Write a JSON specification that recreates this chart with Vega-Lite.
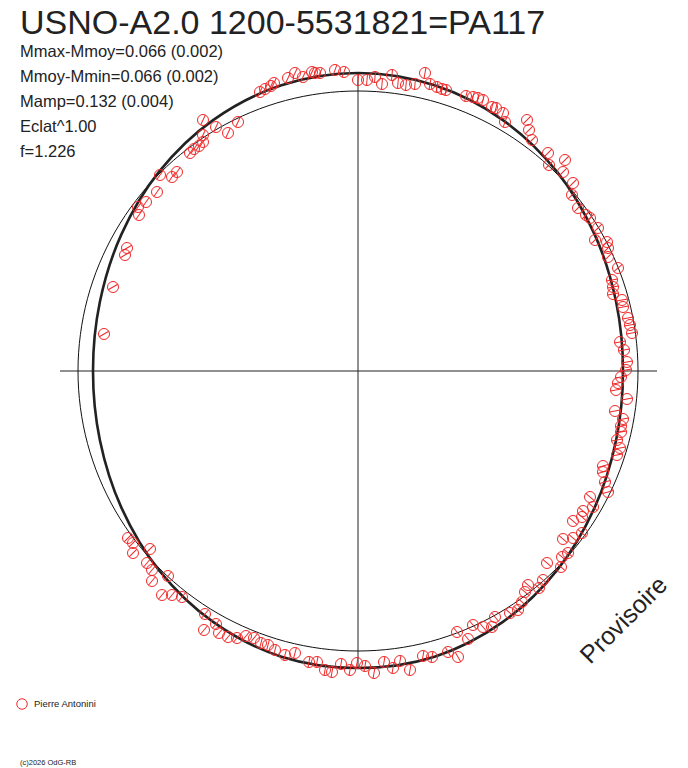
{
  "$schema": "https://vega.github.io/schema/vega-lite/v6.json",
  "width": 688,
  "height": 768,
  "autosize": {"type": "none"},
  "padding": 0,
  "data": {"values": [{}]},
  "title": {
    "text": "USNO-A2.0 1200-5531821=PA117",
    "subtitle": ["Mmax-Mmoy=0.066 (0.002)", "Mmoy-Mmin=0.066 (0.002)", "Mamp=0.132 (0.004)", "Eclat^1.00", "f=1.226"],
    "anchor": "start",
    "frame": "group",
    "orient": "top",
    "offset": -160,
    "dx": 20,
    "font": "Liberation Sans",
    "fontSize": 34,
    "fontWeight": "normal",
    "color": "#222222",
    "subtitleFont": "Liberation Sans",
    "subtitleFontSize": 16.5,
    "subtitleColor": "#222222",
    "subtitleLineHeight": 25,
    "subtitlePadding": 3
  },
  "datasets": {
    "obs": [
      {"x": -98, "y": 279, "t": 25}, {"x": -93, "y": 282, "t": 25}, {"x": -87, "y": 285, "t": 25}, {"x": -84, "y": 288, "t": 25},
      {"x": -70, "y": 293, "t": 25}, {"x": -63, "y": 298, "t": 25}, {"x": -55, "y": 294, "t": 25}, {"x": -46, "y": 299, "t": 25},
      {"x": -43, "y": 298, "t": 25}, {"x": -38, "y": 298, "t": 25}, {"x": -23, "y": 301, "t": 20}, {"x": -14, "y": 299, "t": 20},
      {"x": -155, "y": 251, "t": 25}, {"x": -155, "y": 236, "t": 25}, {"x": -142, "y": 244, "t": 25}, {"x": -130, "y": 238, "t": 25},
      {"x": -120, "y": 249, "t": 25},
      {"x": 0, "y": 291, "t": 5}, {"x": 9, "y": 291, "t": 5}, {"x": 17, "y": 294, "t": 5}, {"x": 24, "y": 287, "t": 5},
      {"x": 34, "y": 296, "t": 5}, {"x": 40, "y": 288, "t": 5}, {"x": 48, "y": 286, "t": 5}, {"x": 57, "y": 287, "t": 5},
      {"x": 67, "y": 298, "t": 10}, {"x": 72, "y": 287, "t": 10}, {"x": 79, "y": 284, "t": 10}, {"x": 84, "y": 282, "t": 10},
      {"x": 88, "y": 281, "t": 10}, {"x": 108, "y": 275, "t": 15}, {"x": 115, "y": 274, "t": 15}, {"x": 120, "y": 273, "t": 15},
      {"x": 125, "y": 271, "t": 15}, {"x": 134, "y": 264, "t": 15}, {"x": 138, "y": 263, "t": 15}, {"x": 145, "y": 258, "t": 20},
      {"x": 147, "y": 249, "t": 20},
      {"x": 169, "y": 251, "t": 45}, {"x": 171, "y": 241, "t": 45}, {"x": 174, "y": 231, "t": 45}, {"x": 190, "y": 218, "t": 45},
      {"x": 191, "y": 206, "t": 45}, {"x": 207, "y": 211, "t": 45}, {"x": 205, "y": 199, "t": 45}, {"x": 215, "y": 188, "t": 45},
      {"x": 214, "y": 176, "t": 45}, {"x": 220, "y": 163, "t": 45}, {"x": 228, "y": 156, "t": 45}, {"x": 232, "y": 153, "t": 45},
      {"x": 240, "y": 143, "t": 45}, {"x": 237, "y": 131, "t": 45}, {"x": 249, "y": 129, "t": 45}, {"x": 250, "y": 123, "t": 45},
      {"x": 250, "y": 114, "t": 45}, {"x": 260, "y": 103, "t": 50},
      {"x": 254, "y": 91, "t": 80}, {"x": 255, "y": 84, "t": 80}, {"x": 255, "y": 77, "t": 80}, {"x": 264, "y": 71, "t": 80},
      {"x": 265, "y": 64, "t": 80}, {"x": 270, "y": 53, "t": 80}, {"x": 272, "y": 46, "t": 80}, {"x": 274, "y": 38, "t": 80},
      {"x": 262, "y": 29, "t": 80}, {"x": 266, "y": 21, "t": 80}, {"x": 269, "y": 9, "t": 80}, {"x": 268, "y": 1, "t": 80},
      {"x": 263, "y": -6, "t": 80}, {"x": 260, "y": -12, "t": 80}, {"x": 258, "y": -19, "t": 80}, {"x": 269, "y": -28, "t": 80},
      {"x": 257, "y": -40, "t": 80}, {"x": 265, "y": -48, "t": 80}, {"x": 263, "y": -55, "t": 80}, {"x": 263, "y": -61, "t": 80},
      {"x": 259, "y": -69, "t": 80}, {"x": 262, "y": -77, "t": 80}, {"x": 259, "y": -84, "t": 80}, {"x": 245, "y": -95, "t": 75},
      {"x": 245, "y": -101, "t": 75}, {"x": 247, "y": -111, "t": 75}, {"x": 250, "y": -121, "t": 75},
      {"x": 232, "y": -126, "t": -50}, {"x": 235, "y": -136, "t": -50}, {"x": 225, "y": -140, "t": -50}, {"x": 224, "y": -146, "t": -50},
      {"x": 224, "y": -162, "t": -50}, {"x": 215, "y": -150, "t": -50}, {"x": 215, "y": -167, "t": -50}, {"x": 205, "y": -168, "t": -50},
      {"x": 210, "y": -182, "t": -50}, {"x": 204, "y": -186, "t": -50}, {"x": 203, "y": -196, "t": -50}, {"x": 189, "y": -192, "t": -50},
      {"x": 185, "y": -209, "t": -50}, {"x": 181, "y": -217, "t": -50}, {"x": 170, "y": -214, "t": -50}, {"x": 167, "y": -221, "t": -50},
      {"x": 164, "y": -231, "t": -50}, {"x": 160, "y": -239, "t": -50}, {"x": 152, "y": -242, "t": -50}, {"x": 137, "y": -246, "t": -40},
      {"x": 134, "y": -256, "t": -40}, {"x": 125, "y": -256, "t": -40}, {"x": 115, "y": -254, "t": -40}, {"x": 110, "y": -268, "t": -40},
      {"x": 99, "y": -261, "t": -40}, {"x": 100, "y": -286, "t": -30}, {"x": 90, "y": -281, "t": -30},
      {"x": 74, "y": -286, "t": 10}, {"x": 65, "y": -285, "t": 10}, {"x": 52, "y": -299, "t": 10}, {"x": 42, "y": -290, "t": 10},
      {"x": 35, "y": -297, "t": 10}, {"x": 26, "y": -291, "t": 10}, {"x": 16, "y": -302, "t": 10}, {"x": 7, "y": -295, "t": 10},
      {"x": -1, "y": -292, "t": 10}, {"x": -8, "y": -299, "t": 10}, {"x": -17, "y": -293, "t": 10}, {"x": -26, "y": -301, "t": 10},
      {"x": -33, "y": -299, "t": 10}, {"x": -41, "y": -291, "t": 10}, {"x": -49, "y": -291, "t": 10}, {"x": -63, "y": -282, "t": 15},
      {"x": -73, "y": -284, "t": 15}, {"x": -83, "y": -279, "t": 15}, {"x": -90, "y": -274, "t": 15}, {"x": -97, "y": -272, "t": 15},
      {"x": -104, "y": -267, "t": 40}, {"x": -112, "y": -265, "t": 40}, {"x": -121, "y": -267, "t": 40}, {"x": -130, "y": -266, "t": 40},
      {"x": -139, "y": -262, "t": 40}, {"x": -142, "y": -253, "t": 40}, {"x": -154, "y": -259, "t": 40}, {"x": -153, "y": -243, "t": 40},
      {"x": -176, "y": -226, "t": 40}, {"x": -186, "y": -224, "t": 40}, {"x": -196, "y": -224, "t": 40}, {"x": -190, "y": -205, "t": 40},
      {"x": -206, "y": -210, "t": 40}, {"x": -206, "y": -199, "t": 40}, {"x": -211, "y": -192, "t": 40}, {"x": -225, "y": -182, "t": 45},
      {"x": -208, "y": -178, "t": 45}, {"x": -225, "y": -172, "t": 45}, {"x": -230, "y": -167, "t": 45},
      {"x": -155, "y": 229, "t": 35}, {"x": -159, "y": 225, "t": 35}, {"x": -164, "y": 222, "t": 35}, {"x": -168, "y": 218, "t": 35},
      {"x": -181, "y": 199, "t": 35}, {"x": -186, "y": 194, "t": 35}, {"x": -198, "y": 196, "t": 35}, {"x": -201, "y": 179, "t": 35},
      {"x": -212, "y": 169, "t": 35}, {"x": -220, "y": 164, "t": 35}, {"x": -219, "y": 156, "t": 35},
      {"x": -231, "y": 123, "t": 60}, {"x": -233, "y": 116, "t": 60}, {"x": -245, "y": 84, "t": 60}, {"x": -254, "y": 37, "t": 60}
    ],
    "fit": [
      {"k": 0, "x": 0, "y": 298}, {"k": 1, "x": 76.6, "y": 285.7}, {"k": 2, "x": 144.9, "y": 250.9}, {"k": 3, "x": 199.1, "y": 199.1},
      {"k": 4, "x": 236.6, "y": 136.6}, {"k": 5, "x": 258.1, "y": 69.2}, {"k": 6, "x": 265, "y": 0}, {"k": 7, "x": 258.1, "y": -69.2},
      {"k": 8, "x": 236.6, "y": -136.6}, {"k": 9, "x": 199.1, "y": -199.1}, {"k": 10, "x": 144.9, "y": -250.9}, {"k": 11, "x": 76.6, "y": -285.7},
      {"k": 12, "x": 0, "y": -297}, {"k": 13, "x": -76.6, "y": -285.7}, {"k": 14, "x": -144.9, "y": -250.9}, {"k": 15, "x": -199.1, "y": -199.1},
      {"k": 16, "x": -236.6, "y": -136.6}, {"k": 17, "x": -258.1, "y": -69.2}, {"k": 18, "x": -265, "y": 0}, {"k": 19, "x": -258.1, "y": 69.2},
      {"k": 20, "x": -236.6, "y": 136.6}, {"k": 21, "x": -199.1, "y": 199.1}, {"k": 22, "x": -144.9, "y": 250.9}, {"k": 23, "x": -76.6, "y": 285.7}
    ],
    "ref": [
      {"k": 0, "x": 0, "y": 280}, {"k": 1, "x": 72.5, "y": 270.5}, {"k": 2, "x": 140, "y": 242.5}, {"k": 3, "x": 198, "y": 198},
      {"k": 4, "x": 242.5, "y": 140}, {"k": 5, "x": 270.5, "y": 72.5}, {"k": 6, "x": 280, "y": 0}, {"k": 7, "x": 270.5, "y": -72.5},
      {"k": 8, "x": 242.5, "y": -140}, {"k": 9, "x": 198, "y": -198}, {"k": 10, "x": 140, "y": -242.5}, {"k": 11, "x": 72.5, "y": -270.5},
      {"k": 12, "x": 0, "y": -280}, {"k": 13, "x": -72.5, "y": -270.5}, {"k": 14, "x": -140, "y": -242.5}, {"k": 15, "x": -198, "y": -198},
      {"k": 16, "x": -242.5, "y": -140}, {"k": 17, "x": -270.5, "y": -72.5}, {"k": 18, "x": -280, "y": 0}, {"k": 19, "x": -270.5, "y": 72.5},
      {"k": 20, "x": -242.5, "y": 140}, {"k": 21, "x": -198, "y": 198}, {"k": 22, "x": -140, "y": 242.5}, {"k": 23, "x": -72.5, "y": 270.5}
    ]
  },
  "layer": [
    {
      "mark": {"type": "rule", "stroke": "#222222", "strokeWidth": 1},
      "encoding": {
        "x": {"datum": -298, "type": "quantitative", "scale": {"domain": [-358, 330], "nice": false, "zero": false}, "axis": null},
        "x2": {"datum": 299},
        "y": {"datum": 0, "type": "quantitative", "scale": {"domain": [-397, 371], "nice": false, "zero": false}, "axis": null}
      }
    },
    {
      "mark": {"type": "rule", "stroke": "#222222", "strokeWidth": 1},
      "encoding": {
        "x": {"datum": 0, "type": "quantitative"},
        "y": {"datum": -297, "type": "quantitative"},
        "y2": {"datum": 298}
      }
    },
    {
      "data": {"name": "ref"},
      "mark": {"type": "line", "interpolate": "cardinal-closed", "stroke": "#111111", "strokeWidth": 1},
      "encoding": {
        "x": {"field": "x", "type": "quantitative"},
        "y": {"field": "y", "type": "quantitative"},
        "order": {"field": "k"}
      }
    },
    {
      "data": {"name": "fit"},
      "mark": {"type": "line", "interpolate": "cardinal-closed", "stroke": "#222222", "strokeWidth": 2.6},
      "encoding": {
        "x": {"field": "x", "type": "quantitative"},
        "y": {"field": "y", "type": "quantitative"},
        "order": {"field": "k"}
      }
    },
    {
      "data": {"name": "obs"},
      "mark": {"type": "point", "shape": "circle", "filled": false, "size": 121, "strokeWidth": 1, "opacity": 1},
      "encoding": {
        "x": {"field": "x", "type": "quantitative"},
        "y": {"field": "y", "type": "quantitative"},
        "stroke": {
          "datum": "Pierre Antonini",
          "type": "nominal",
          "scale": {"range": ["#f02828"]},
          "legend": {
            "title": null,
            "orient": "none",
            "legendX": 16,
            "legendY": 698,
            "labelFont": "Liberation Sans",
            "labelFontSize": 9.5,
            "labelColor": "#222222",
            "labelOffset": 6,
            "symbolType": "circle",
            "symbolSize": 110,
            "symbolStrokeWidth": 1,
            "symbolFillColor": "transparent"
          }
        }
      }
    },
    {
      "data": {"name": "obs"},
      "mark": {"type": "point", "shape": "M0,-1L0,1", "filled": false, "size": 121, "strokeWidth": 1, "stroke": "#f02828", "opacity": 1},
      "encoding": {
        "x": {"field": "x", "type": "quantitative"},
        "y": {"field": "y", "type": "quantitative"},
        "angle": {"field": "t", "type": "quantitative", "scale": null}
      }
    },
    {
      "mark": {"type": "text", "text": "Provisoire", "font": "Liberation Sans", "fontSize": 25, "angle": -45, "align": "center", "baseline": "middle", "color": "#222222"},
      "encoding": {
        "x": {"datum": 266, "type": "quantitative"},
        "y": {"datum": -249, "type": "quantitative"}
      }
    },
    {
      "mark": {"type": "text", "text": "(c)2026 OdG-RB", "font": "Liberation Sans", "fontSize": 7.5, "align": "left", "baseline": "alphabetic", "color": "#222222"},
      "encoding": {
        "x": {"datum": -338, "type": "quantitative"},
        "y": {"datum": -394, "type": "quantitative"}
      }
    }
  ],
  "config": {"view": {"stroke": null}}
}
